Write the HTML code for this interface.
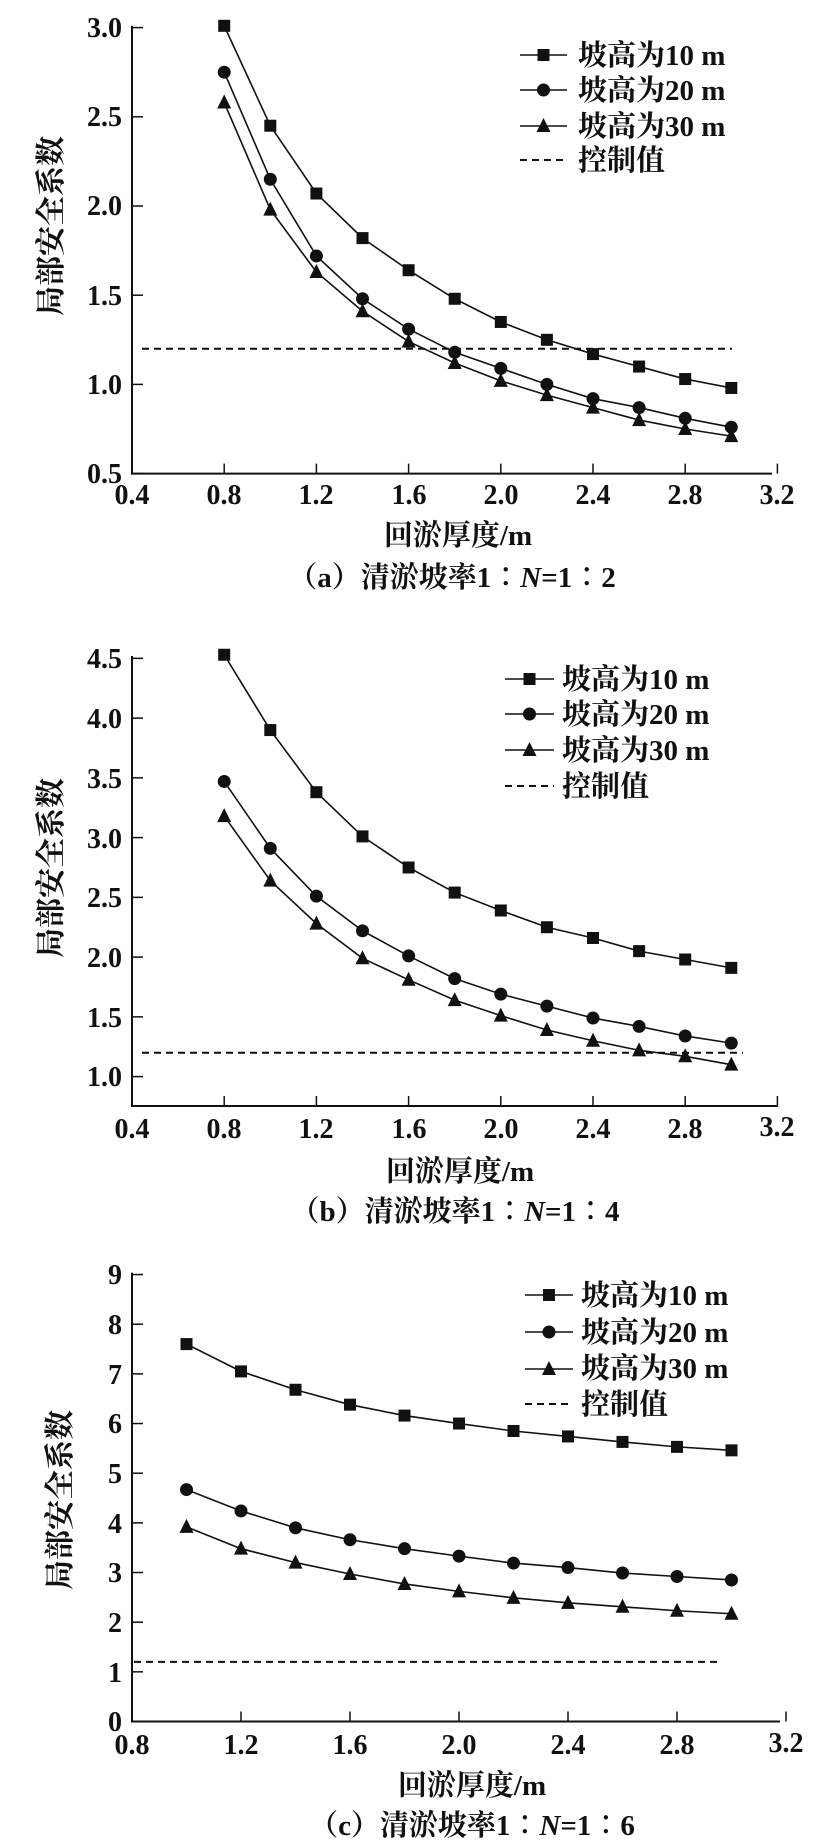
<!DOCTYPE html>
<html><head><meta charset="utf-8"><style>
html,body{margin:0;padding:0;background:#fff;}
svg{display:block;}
text{font-family:"Liberation Serif","Noto Serif CJK SC","Noto Sans CJK SC",serif;font-weight:bold;fill:#111;}
.tk{font-size:28px;}
.lg{font-size:29px;}
.ti{font-size:29px;}
.yt{font-size:30px;}
</style></head><body>
<svg id="s" width="831" height="1847" viewBox="0 0 831 1847" xmlns="http://www.w3.org/2000/svg">
<g id="g"></g>
<!-- Chart a text -->
<g class="tk" text-anchor="end">
<text x="122" y="37">3.0</text><text x="122" y="126">2.5</text><text x="122" y="215">2.0</text>
<text x="122" y="305">1.5</text><text x="122" y="394">1.0</text><text x="122" y="483">0.5</text>
</g>
<g class="tk" text-anchor="middle">
<text x="132" y="504">0.4</text><text x="224" y="504">0.8</text><text x="316" y="504">1.2</text><text x="409" y="504">1.6</text>
<text x="501" y="504">2.0</text><text x="593" y="504">2.4</text><text x="685" y="504">2.8</text><text x="777" y="504">3.2</text>
</g>
<text class="ti" x="458" y="545" text-anchor="middle">回淤厚度/m</text>
<text class="yt" transform="translate(61,226) rotate(-90)" text-anchor="middle">局部安全系数</text>
<text class="ti" x="452" y="587" text-anchor="middle">（a）清淤坡率1∶<tspan font-style="italic">N</tspan>=1∶2</text>
<g class="lg"><text x="578" y="65">坡高为10 m</text><text x="578" y="100">坡高为20 m</text><text x="578" y="136">坡高为30 m</text><text x="578" y="170">控制值</text></g>

<!-- Chart b text -->
<g class="tk" text-anchor="end">
<text x="122" y="668">4.5</text><text x="122" y="728">4.0</text><text x="122" y="788">3.5</text><text x="122" y="848">3.0</text>
<text x="122" y="907">2.5</text><text x="122" y="967">2.0</text><text x="122" y="1027">1.5</text><text x="122" y="1086">1.0</text>
</g>
<g class="tk" text-anchor="middle">
<text x="132" y="1138">0.4</text><text x="224" y="1138">0.8</text><text x="316" y="1138">1.2</text><text x="409" y="1138">1.6</text>
<text x="501" y="1138">2.0</text><text x="593" y="1138">2.4</text><text x="685" y="1138">2.8</text><text x="777" y="1136">3.2</text>
</g>
<text class="ti" x="460" y="1181" text-anchor="middle">回淤厚度/m</text>
<text class="yt" transform="translate(61,868) rotate(-90)" text-anchor="middle">局部安全系数</text>
<text class="ti" x="455" y="1221" text-anchor="middle">（b）清淤坡率1∶<tspan font-style="italic">N</tspan>=1∶4</text>
<g class="lg"><text x="562" y="689">坡高为10 m</text><text x="562" y="724">坡高为20 m</text><text x="562" y="760">坡高为30 m</text><text x="562" y="796">控制值</text></g>

<!-- Chart c text -->
<g class="tk" text-anchor="end">
<text x="122" y="1284">9</text><text x="122" y="1334">8</text><text x="122" y="1384">7</text><text x="122" y="1433">6</text>
<text x="122" y="1483">5</text><text x="122" y="1533">4</text><text x="122" y="1582">3</text><text x="122" y="1632">2</text>
<text x="122" y="1682">1</text><text x="122" y="1731">0</text>
</g>
<g class="tk" text-anchor="middle">
<text x="132" y="1754">0.8</text><text x="241" y="1754">1.2</text><text x="350" y="1754">1.6</text><text x="459" y="1754">2.0</text>
<text x="568" y="1754">2.4</text><text x="677" y="1754">2.8</text><text x="786" y="1752">3.2</text>
</g>
<text class="ti" x="472" y="1795" text-anchor="middle">回淤厚度/m</text>
<text class="yt" transform="translate(70,1500) rotate(-90)" text-anchor="middle">局部安全系数</text>
<text class="ti" x="472" y="1835" text-anchor="middle">（c）清淤坡率1∶<tspan font-style="italic">N</tspan>=1∶6</text>
<g class="lg"><text x="581" y="1305">坡高为10 m</text><text x="581" y="1342">坡高为20 m</text><text x="581" y="1378">坡高为30 m</text><text x="581" y="1414">控制值</text></g>
</svg>
<script>
var NS="http://www.w3.org/2000/svg",g=document.getElementById("g");
function el(t,a){var e=document.createElementNS(NS,t);for(var k in a)e.setAttribute(k,a[k]);g.appendChild(e);return e;}
function mk(type,x,y){
 if(type==0)el("rect",{x:x-6,y:y-6,width:12,height:12,fill:"#111"});
 else if(type==1)el("circle",{cx:x,cy:y,r:6.5,fill:"#111"});
 else el("polygon",{points:(x-7)+","+(y+6)+" "+(x+7)+","+(y+6)+" "+x+","+(y-8),fill:"#111"});
}
function chart(c){
 var X=function(v){return c.x0+(v-c.xmin)/0.4*c.px;},Y=function(v){return c.ybot-(v-c.ymin)*c.py;};
 el("line",{x1:c.x0,y1:c.ytop-2,x2:c.x0,y2:c.ybot+1,stroke:"#111","stroke-width":2});
 el("line",{x1:c.x0-1,y1:c.ybot,x2:c.xend,y2:c.ybot,stroke:"#111","stroke-width":2});
 c.yt.forEach(function(v){el("line",{x1:c.x0,y1:Y(v),x2:c.x0+11,y2:Y(v),stroke:"#111","stroke-width":1.5});});
 for(var k=1;k<c.nx;k++){var xx=c.x0+k*c.px;el("line",{x1:xx,y1:c.ybot,x2:xx,y2:c.ybot-10,stroke:"#111","stroke-width":1.5});}
 el("line",{x1:c.dx1,y1:Y(1.2),x2:c.dx2,y2:Y(1.2),stroke:"#111","stroke-width":2,"stroke-dasharray":"7,5"});
 c.s.forEach(function(d,i){
  var pts=d.map(function(v,j){return X(c.xs+j*0.2)+","+Y(v);}).join(" ");
  el("polyline",{points:pts,fill:"none",stroke:"#111","stroke-width":1.6});
  d.forEach(function(v,j){mk(i,X(c.xs+j*0.2),Y(v));});
 });
 c.leg.forEach(function(yy,i){
  if(i<3){el("line",{x1:c.lx1,y1:yy,x2:c.lx2,y2:yy,stroke:"#111","stroke-width":1.6});mk(i,(c.lx1+c.lx2)/2,yy);}
  else el("line",{x1:c.lx1,y1:yy,x2:c.lx2,y2:yy,stroke:"#111","stroke-width":2,"stroke-dasharray":"7,5"});
 });
}
chart({x0:132,xmin:0.4,px:92.2,nx:8,xend:772,ymin:0.5,py:178.4,ybot:473.6,ytop:27.8,yt:[0.5,1,1.5,2,2.5,3],dx1:142,dx2:732,xs:0.8,
 s:[[3.01,2.45,2.07,1.82,1.64,1.48,1.35,1.25,1.17,1.10,1.03,0.98],[2.75,2.15,1.72,1.48,1.31,1.18,1.09,1.00,0.92,0.87,0.81,0.76],[2.58,1.98,1.63,1.41,1.24,1.12,1.02,0.94,0.87,0.80,0.75,0.71]],
 lx1:520,lx2:567,leg:[55,90,126,160]});
chart({x0:132,xmin:0.4,px:92.2,nx:8,xend:778,ymin:0.754,py:119.5,ybot:1106,ytop:658,yt:[1,1.5,2,2.5,3,3.5,4,4.5],dx1:142,dx2:743,xs:0.8,
 s:[[4.53,3.90,3.38,3.01,2.75,2.54,2.39,2.25,2.16,2.05,1.98,1.91],[3.47,2.91,2.51,2.22,2.01,1.82,1.69,1.59,1.49,1.42,1.34,1.28],[3.18,2.64,2.28,1.99,1.81,1.64,1.51,1.39,1.30,1.22,1.17,1.10]],
 lx1:505,lx2:554,leg:[679,714,750,786]});
chart({x0:132,xmin:0.8,px:109,nx:7,xend:780,ymin:0,py:49.66,ybot:1721.5,ytop:1274.6,yt:[0,1,2,3,4,5,6,7,8,9],dx1:134,dx2:722,xs:1.0,
 s:[[7.6,7.05,6.68,6.38,6.16,6.0,5.85,5.74,5.63,5.53,5.46],[4.67,4.24,3.9,3.66,3.48,3.33,3.19,3.1,2.99,2.92,2.85],[3.92,3.48,3.2,2.97,2.77,2.62,2.49,2.39,2.31,2.23,2.17]],
 lx1:525,lx2:573,leg:[1295,1332,1369,1404]});
</script>
</body></html>
